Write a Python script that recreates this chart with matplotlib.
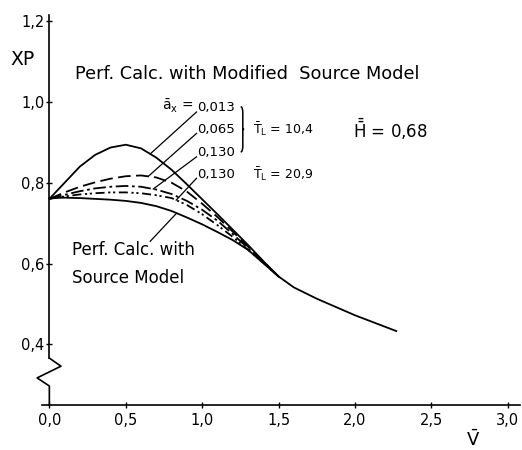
import numpy as np
import matplotlib
matplotlib.use("Agg")
import matplotlib.pyplot as plt
from matplotlib.path import Path
from matplotlib.patches import PathPatch

# Non-dimensional speed V and power coefficient XP
v = [0.0, 0.1, 0.2, 0.3, 0.4, 0.5, 0.6, 0.7, 0.8, 0.9, 1.0, 1.1, 1.2, 1.3, 1.4, 1.5]
v_tail = [1.6, 1.75, 2.0, 2.27]

xp_013 = [0.760, 0.800, 0.840, 0.869, 0.887, 0.894, 0.885, 0.862, 0.832, 0.796, 0.759,
          0.722, 0.684, 0.646, 0.606, 0.568]
xp_tail = [0.541, 0.513, 0.472, 0.433]
xp_065 = [0.760, 0.776, 0.790, 0.801, 0.810, 0.816, 0.818, 0.813, 0.800, 0.778, 0.748,
          0.715, 0.679, 0.642, 0.605, 0.568]
xp_130_t10 = [0.760, 0.770, 0.779, 0.786, 0.790, 0.792, 0.790, 0.783, 0.772, 0.755, 0.733,
              0.706, 0.673, 0.638, 0.603, 0.568]
xp_130_t21 = [0.760, 0.766, 0.771, 0.774, 0.776, 0.776, 0.774, 0.769, 0.762, 0.745, 0.722,
              0.695, 0.666, 0.634, 0.602, 0.568]
xp_source = [0.762, 0.763, 0.762, 0.760, 0.758, 0.755, 0.750, 0.742, 0.730, 0.714, 0.697,
             0.678, 0.658, 0.634, 0.601, 0.568]

alpha_labels = ["0,013", "0,065", "0,130", "0,130"]
xticks = [0.0, 0.5, 1.0, 1.5, 2.0, 2.5, 3.0]
yticks = [0.4, 0.6, 0.8, 1.0, 1.2]

plt.rcParams['font.family'] = 'DejaVu Sans'

fig = plt.figure(figsize=(5.22, 4.5), dpi=100)
ax = fig.add_axes([0.0799, 0.1, 0.9163, 0.8667])
ax.set_xlim(-0.05, 3.08)
ax.set_ylim(0.25, 1.215)

lw = 1.3
ax.plot(v + v_tail, xp_013 + xp_tail, color='k', lw=lw)
ax.plot(v, xp_065, color='k', lw=lw, dashes=(7, 3))
ax.plot(v, xp_130_t10, color='k', lw=lw, dashes=(7, 2, 1.5, 2))
ax.plot(v, xp_130_t21, color='k', lw=lw, dashes=(5, 2, 1.2, 1.5, 1.2, 2))
ax.plot(v, xp_source, color='k', lw=lw)

# axes: broken y axis with zigzag near the bottom
for s in ['top', 'right']:
    ax.spines[s].set_visible(False)
ax.spines['left'].set_position(('data', 0))
ax.spines['left'].set_bounds(0.366, 1.215)
ax.spines['left'].set_linewidth(1.2)
ax.spines['bottom'].set_linewidth(1.2)
ax.plot([0, 0.076, -0.08, 0, 0], [0.366, 0.346, 0.317, 0.297, 0.25],
        color='k', lw=1.2, clip_on=False)

ax.set_xticks(xticks)
ax.set_xticklabels([f"{t:.1f}".replace('.', ',') for t in xticks])
ax.set_yticks(yticks)
ax.set_yticklabels([f"{t:.1f}".replace('.', ',') for t in yticks])
ax.tick_params(direction='inout', length=5, width=1.0, labelsize=10.5)
ax.tick_params(axis='y', pad=1)
ax.tick_params(axis='x', pad=3)

ax.text(-0.257, 1.105, "XP", fontsize=13.5, ha='left', va='center', clip_on=False)
ax.text(2.77, 0.164, r'$\mathrm{\bar{V}}$', fontsize=13, ha='center', va='center',
        clip_on=False)

ax.text(0.168, 1.068, "Perf. Calc. with Modified  Source Model", fontsize=12.8,
        ha='left', va='center')
ax.text(0.148, 0.634, "Perf. Calc. with", fontsize=12, ha='left', va='center')
ax.text(0.148, 0.565, "Source Model", fontsize=12, ha='left', va='center')

# parameter labels with leader lines to the curves
label_y = [0.985, 0.932, 0.874, 0.821]
curves = [xp_013, xp_065, xp_130_t10, xp_130_t21]
hit_v = [0.66, 0.647, 0.68, 0.83]
for lab, ly, cv, hv in zip(alpha_labels, label_y, curves, hit_v):
    ax.text(0.968, ly, lab, fontsize=9.5, ha='left', va='center')
    ax.plot([0.963, hv], [ly - 0.01, np.interp(hv, v, cv)], color='k', lw=0.9)
ax.text(0.945, 0.99, r'$\mathrm{\bar{a}_x}$ =', fontsize=10, ha='right', va='center')

# thin curly brace grouping the first three labels
xl, xm, xr = 1.252, 1.266, 1.283
yt, yb = 0.988, 0.876
ym = 0.5 * (yt + yb)
verts = [(xl, yt), (xm, yt), (xm, yt - 0.016),
         (xm, ym + 0.012), (xm, ym + 0.012), (xm, ym), (xr, ym),
         (xm, ym), (xm, ym - 0.012), (xm, ym - 0.012),
         (xm, yb + 0.016), (xm, yb), (xl, yb)]
codes = [Path.MOVETO, Path.CURVE3, Path.CURVE3,
         Path.LINETO, Path.CURVE3, Path.CURVE3, Path.CURVE3,
         Path.CURVE3, Path.CURVE3, Path.LINETO,
         Path.LINETO, Path.CURVE3, Path.CURVE3]
ax.add_patch(PathPatch(Path(verts, codes), fill=False, lw=1.1, ec='k'))

ax.text(1.33, 0.932, r'$\mathrm{\bar{T}_L}$ = 10,4', fontsize=9, ha='left', va='center')
ax.text(1.33, 0.821, r'$\mathrm{\bar{T}_L}$ = 20,9', fontsize=9, ha='left', va='center')
ax.text(1.985, 0.932, r'$\mathrm{\bar{\bar{H}}}$ = 0,68', fontsize=12, ha='left', va='center')

# leader to the source-model curve
ax.plot([0.66, 0.833], [0.655, np.interp(0.833, v, xp_source)], color='k', lw=0.9)

fig.savefig("out.png", dpi=100)
